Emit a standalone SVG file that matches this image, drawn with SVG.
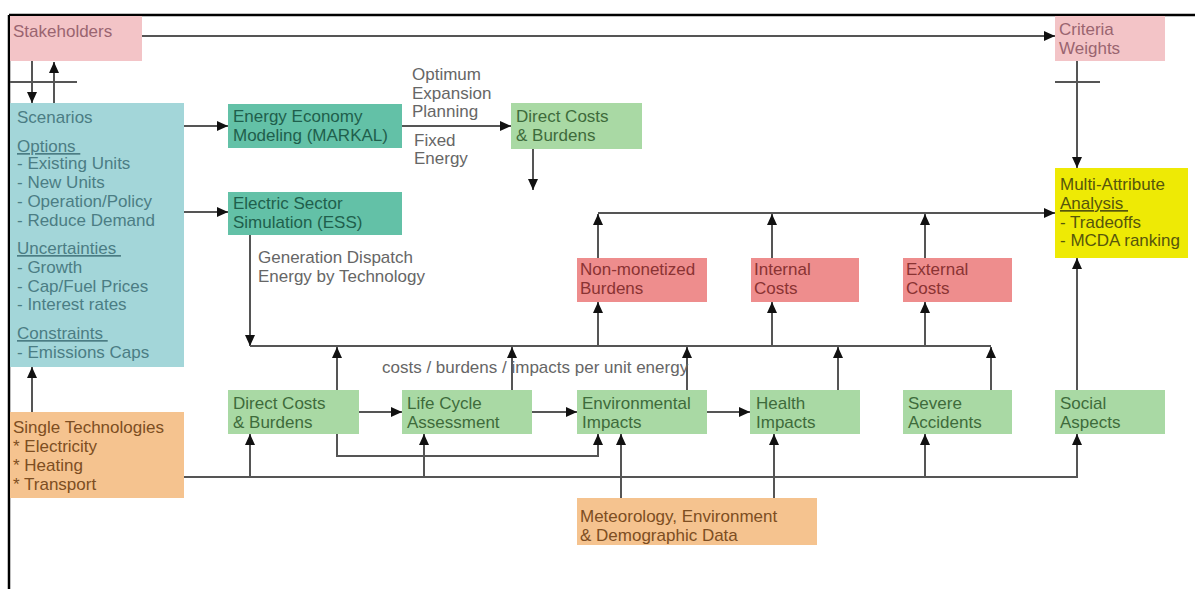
<svg xmlns="http://www.w3.org/2000/svg" width="1195" height="589" viewBox="0 0 1195 589">
<style>
text{font-family:"Liberation Sans",Arial,sans-serif;font-size:17px}
.pink{fill:#f3c4c7}
.pinkt{fill:#9a6470}
.teal{fill:#a3d6d9}
.tealt{fill:#4b7d84}
.dteal{fill:#63c1a7}
.dtealt{fill:#1f5f4c}
.green{fill:#a9d9a4}
.greent{fill:#3e6b3b}
.red{fill:#ee8d8d}
.redt{fill:#8a3333}
.yel{fill:#eeea05}
.yelt{fill:#56560c}
.org{fill:#f5c38f}
.orgt{fill:#7d4e22}
.lbl{fill:#666}
.u{text-decoration:underline}
.c{fill:none;stroke:#555;stroke-width:2}
.ca{fill:none;stroke:#555;stroke-width:2;marker-end:url(#ah)}
</style>
<defs>
<marker id="ah" markerUnits="userSpaceOnUse" markerWidth="12" markerHeight="11" refX="11" refY="5.5" orient="auto">
<path d="M0,0.5 L11,5.5 L0,10.5 z" fill="#111"/>
</marker>
</defs>
<rect x="0" y="0" width="1195" height="589" fill="#fff"/>
<g id="frame" fill="none" stroke="#000" stroke-width="2.5">
<line x1="9" y1="15" x2="1195" y2="15"/>
<line x1="9" y1="15" x2="9" y2="589"/>
</g>

<g id="connectors">
<line class="ca" x1="142" y1="36" x2="1055" y2="36"/>
<line class="ca" x1="32" y1="61" x2="32" y2="103"/>
<line class="ca" x1="54" y1="104" x2="54" y2="62"/>
<line class="c" x1="10" y1="82" x2="77" y2="82"/>
<line class="ca" x1="1077" y1="61" x2="1077" y2="168"/>
<line class="c" x1="1055" y1="82" x2="1100" y2="82"/>
<line class="ca" x1="184" y1="126" x2="228" y2="126"/>
<line class="ca" x1="184" y1="212" x2="228" y2="212"/>
<line class="ca" x1="402" y1="126" x2="511" y2="126"/>
<line class="ca" x1="533" y1="149" x2="533" y2="190"/>
<line class="ca" x1="250" y1="235" x2="250" y2="346"/>
<line class="c" x1="250" y1="346" x2="991" y2="346"/>
<line class="ca" x1="337" y1="390" x2="337" y2="347"/>
<line class="ca" x1="512" y1="390" x2="512" y2="347"/>
<line class="ca" x1="687" y1="390" x2="687" y2="347"/>
<line class="ca" x1="838" y1="390" x2="838" y2="347"/>
<line class="ca" x1="991" y1="390" x2="991" y2="347"/>
<line class="ca" x1="598" y1="346" x2="598" y2="302"/>
<line class="ca" x1="772" y1="346" x2="772" y2="302"/>
<line class="ca" x1="925" y1="346" x2="925" y2="302"/>
<line class="ca" x1="598" y1="258" x2="598" y2="214"/>
<line class="ca" x1="772" y1="258" x2="772" y2="214"/>
<line class="ca" x1="925" y1="258" x2="925" y2="214"/>
<line class="ca" x1="598" y1="213" x2="1055" y2="213"/>
<line class="ca" x1="359" y1="412" x2="402" y2="412"/>
<line class="ca" x1="532" y1="412" x2="577" y2="412"/>
<line class="ca" x1="707" y1="412" x2="750" y2="412"/>
<polyline class="ca" points="337,434 337,456 598,456 598,434"/>
<polyline class="ca" points="184,477 1077,477 1077,434"/>
<line class="ca" x1="250" y1="477" x2="250" y2="434"/>
<line class="ca" x1="424" y1="477" x2="424" y2="434"/>
<line class="ca" x1="925" y1="477" x2="925" y2="434"/>
<line class="ca" x1="621" y1="498" x2="621" y2="434"/>
<line class="ca" x1="774" y1="498" x2="774" y2="434"/>
<line class="ca" x1="1077" y1="390" x2="1077" y2="258"/>
<line class="ca" x1="32" y1="412" x2="32" y2="367"/>
</g>

<g id="labels">
<text class="lbl" x="412" y="80">Optimum</text>
<text class="lbl" x="412" y="99">Expansion</text>
<text class="lbl" x="412" y="117">Planning</text>
<text class="lbl" x="414" y="146">Fixed</text>
<text class="lbl" x="414" y="164">Energy</text>
<text class="lbl" x="258" y="263">Generation Dispatch</text>
<text class="lbl" x="258" y="282">Energy by Technology</text>
<text class="lbl" x="382" y="373">costs / burdens / impacts per unit energy</text>
</g>

<g id="stakeholders">
<rect class="pink" x="10" y="16" width="132" height="45"/>
<text class="pinkt" x="13" y="37">Stakeholders</text>
</g>
<g id="criteria">
<rect class="pink" x="1055" y="16" width="110" height="45"/>
<text class="pinkt" x="1059" y="35">Criteria</text>
<text class="pinkt" x="1059" y="54">Weights</text>
</g>
<g id="scenarios">
<rect class="teal" x="10" y="103" width="174" height="264"/>
<text class="tealt" x="17" y="123">Scenarios</text>
<text class="tealt u" x="17" y="152" xml:space="preserve">Options </text>
<text class="tealt" x="17" y="169">- Existing Units</text>
<text class="tealt" x="17" y="188">- New Units</text>
<text class="tealt" x="17" y="207">- Operation/Policy</text>
<text class="tealt" x="17" y="226">- Reduce Demand</text>
<text class="tealt u" x="17" y="254" xml:space="preserve">Uncertainties </text>
<text class="tealt" x="17" y="273">- Growth</text>
<text class="tealt" x="17" y="292">- Cap/Fuel Prices</text>
<text class="tealt" x="17" y="310">- Interest rates</text>
<text class="tealt u" x="17" y="339" xml:space="preserve">Constraints </text>
<text class="tealt" x="17" y="358">- Emissions Caps</text>
</g>
<g id="eem">
<rect class="dteal" x="228" y="104" width="174" height="44"/>
<text class="dtealt" x="233" y="122">Energy Economy</text>
<text class="dtealt" x="233" y="141">Modeling (MARKAL)</text>
</g>
<g id="ess">
<rect class="dteal" x="228" y="192" width="174" height="43"/>
<text class="dtealt" x="233" y="209">Electric Sector</text>
<text class="dtealt" x="233" y="228">Simulation (ESS)</text>
</g>
<g id="dc-top">
<rect class="green" x="511" y="103" width="131" height="46"/>
<text class="greent" x="516" y="122">Direct Costs</text>
<text class="greent" x="516" y="141">&amp; Burdens</text>
</g>
<g id="nonmon">
<rect class="red" x="577" y="258" width="130" height="44"/>
<text class="redt" x="580" y="275">Non-monetized</text>
<text class="redt" x="580" y="294">Burdens</text>
</g>
<g id="internal">
<rect class="red" x="751" y="258" width="108" height="44"/>
<text class="redt" x="754" y="275">Internal</text>
<text class="redt" x="754" y="294">Costs</text>
</g>
<g id="external">
<rect class="red" x="903" y="258" width="109" height="44"/>
<text class="redt" x="906" y="275">External</text>
<text class="redt" x="906" y="294">Costs</text>
</g>
<g id="mcda">
<rect class="yel" x="1055" y="168" width="133" height="90"/>
<text class="yelt" x="1060" y="190">Multi-Attribute</text>
<text class="yelt u" x="1060" y="209" xml:space="preserve">Analysis </text>
<text class="yelt" x="1060" y="228">- Tradeoffs</text>
<text class="yelt" x="1060" y="246">- MCDA ranking</text>
</g>
<g id="dc">
<rect class="green" x="228" y="390" width="131" height="44"/>
<text class="greent" x="233" y="409">Direct Costs</text>
<text class="greent" x="233" y="428">&amp; Burdens</text>
</g>
<g id="lca">
<rect class="green" x="402" y="390" width="130" height="44"/>
<text class="greent" x="407" y="409">Life Cycle</text>
<text class="greent" x="407" y="428">Assessment</text>
</g>
<g id="env">
<rect class="green" x="577" y="390" width="130" height="44"/>
<text class="greent" x="582" y="409">Environmental</text>
<text class="greent" x="582" y="428">Impacts</text>
</g>
<g id="health">
<rect class="green" x="750" y="390" width="110" height="44"/>
<text class="greent" x="756" y="409">Health</text>
<text class="greent" x="756" y="428">Impacts</text>
</g>
<g id="severe">
<rect class="green" x="903" y="390" width="109" height="44"/>
<text class="greent" x="908" y="409">Severe</text>
<text class="greent" x="908" y="428">Accidents</text>
</g>
<g id="social">
<rect class="green" x="1055" y="390" width="110" height="44"/>
<text class="greent" x="1060" y="409">Social</text>
<text class="greent" x="1060" y="428">Aspects</text>
</g>
<g id="single-tech">
<rect class="org" x="10" y="412" width="174" height="86"/>
<text class="orgt" x="13" y="433">Single Technologies</text>
<text class="orgt" x="13" y="452">* Electricity</text>
<text class="orgt" x="13" y="471">* Heating</text>
<text class="orgt" x="13" y="490">* Transport</text>
</g>
<g id="meteo">
<rect class="org" x="577" y="498" width="240" height="47"/>
<text class="orgt" x="580" y="522">Meteorology, Environment</text>
<text class="orgt" x="580" y="541">&amp; Demographic Data</text>
</g>
</svg>
